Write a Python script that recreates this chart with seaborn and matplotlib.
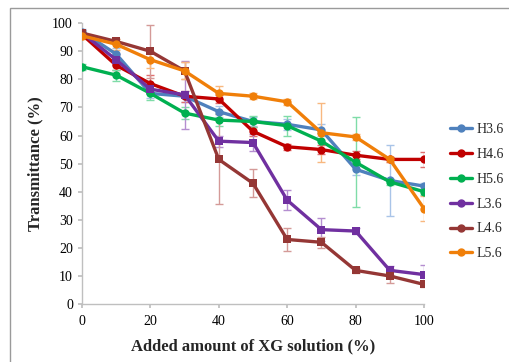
import numpy as np
import pandas as pd
import matplotlib
matplotlib.use("Agg")
import matplotlib.pyplot as plt
import seaborn as sns
from matplotlib.patches import Rectangle

# data
xg = [0, 10, 20, 30, 40, 50, 60, 70, 80, 90, 100]
h36 = [97, 89, 75, 74, 68.5, 65, 64, 62, 48, 44, 42]
h46 = [96, 85, 78.5, 74, 73, 61.5, 56, 55, 53, 51.5, 51.5]
h56 = [84.5, 81.5, 75, 68, 65.5, 65, 63.5, 58, 50.5, 43.5, 40]
l36 = [96.5, 87, 76.5, 74.5, 58, 57.5, 37, 26.5, 26, 12, 10.5]
l46 = [96.5, 93.5, 90, 83, 51.5, 43, 23, 22, 12, 10, 7]
l56 = [95.5, 92.5, 87, 83, 75, 74, 72, 61, 59.5, 51.5, 34]

h36_err = [1, 2, 1.5, 2, 2, 1.5, 2, 2, 2, 12.5, 1]
h46_err = [1, 1.5, 3, 2, 1.5, 1.5, 1, 1.5, 1.5, 1, 2.6]
h56_err = [1, 2, 2.5, 2, 2, 2, 3.5, 3, 16, 1, 1]
l36_err = [1, 2, 1.5, 12, 2, 3, 3.5, 4, 1, 1.5, 3.5]
l46_err = [1, 1, 9.5, 3, 16, 5, 4, 2, 1, 2.5, 1]
l56_err = [1, 2, 3, 3, 2.5, 1, 1, 10.5, 1, 1, 4.5]

names = ["H3.6", "H4.6", "H5.6", "L3.6", "L4.6", "L5.6"]
values = [h36, h46, h56, l36, l46, l56]
errors = [h36_err, h46_err, h56_err, l36_err, l46_err, l56_err]
colors = ["#4F81BD", "#C00000", "#00B050", "#7030A0", "#953735", "#F07F09"]
err_colors = ["#A9C4E8", "#E07070", "#7FDCA8", "#B48ED0", "#D49A98", "#F8B880"]
markers = ["o", "o", "o", "s", "s", "o"]

df = pd.DataFrame({
    "x": xg * len(names),
    "y": sum(values, []),
    "series": sum([[n] * len(xg) for n in names], []),
})

sns.set_theme(style="white")
plt.rcParams["font.family"] = ["Liberation Serif", "DejaVu Serif"]

fig, ax = plt.subplots(figsize=(5.09, 3.62), dpi=100)
fig.subplots_adjust(left=0.161, right=0.833, bottom=0.160, top=0.936)

# error bars first, lighter colour
for v, e, ec in zip(values, errors, err_colors):
    ax.errorbar(xg, v, yerr=e, fmt="none", ecolor=ec, elinewidth=1, capsize=3, zorder=1)

sns.lineplot(data=df, x="x", y="y", hue="series", style="series",
             palette=dict(zip(names, colors)), markers=dict(zip(names, markers)),
             dashes=False, linewidth=2.4, markersize=6, markeredgewidth=0,
             ax=ax, zorder=3, legend=False)

ax.set_xlim(0, 100)
ax.set_ylim(0, 100)
ax.set_xticks(range(0, 101, 20))
ax.set_yticks(range(0, 101, 10))
ax.tick_params(axis="both", labelsize=10, length=3, direction="out",
               bottom=True, left=True, color="#BFBFBF", labelcolor="black")
ax.tick_params(axis="x", pad=5)
for side in ["top", "right"]:
    ax.spines[side].set_visible(False)
for side in ["left", "bottom"]:
    ax.spines[side].set_color("#BFBFBF")
    ax.spines[side].set_linewidth(1)

ax.set_xlabel("Added amount of XG solution (%)", fontsize=12, fontweight="bold", labelpad=7)
ax.set_ylabel("Transmittance (%)", fontsize=12, fontweight="bold", labelpad=6)

handles = [plt.Line2D([], [], color=c, marker="o", markersize=5, linewidth=2.4)
           for c in colors]
ax.legend(handles, names, loc="center left", bbox_to_anchor=(1.04, 0.40), frameon=False,
          fontsize=10, handlelength=1.6, handletextpad=0.3, labelspacing=0.85)

# outer chart frame (cut off on right and bottom)
fig.add_artist(Rectangle((10 / 509, -0.1), 1.2, (362 - 8) / 362 + 0.1,
                         transform=fig.transFigure, fill=False,
                         edgecolor="#9A9A9A", linewidth=1))

fig.savefig("out.png", dpi=100)
